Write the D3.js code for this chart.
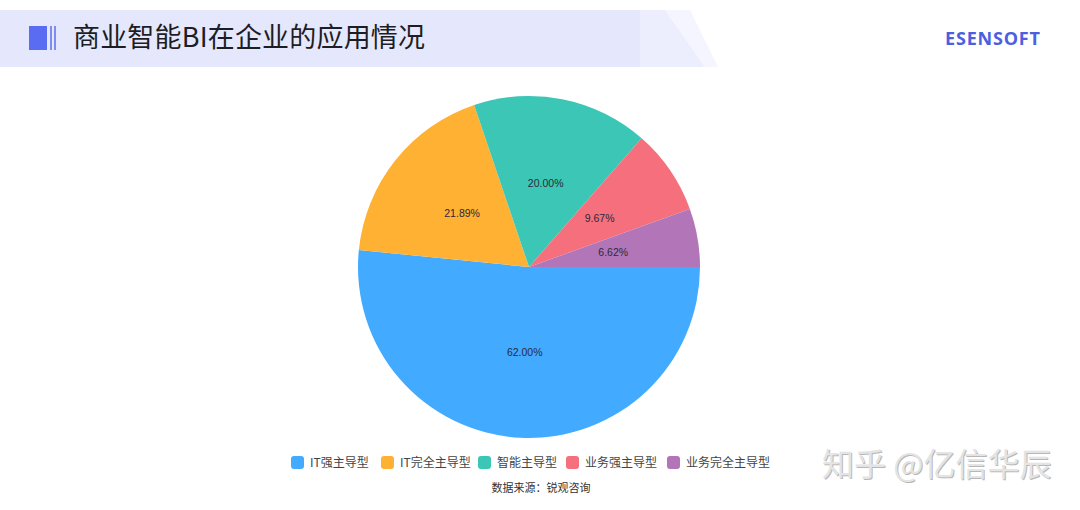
<!DOCTYPE html>
<html><head><meta charset="utf-8">
<script src="https://cdn.jsdelivr.net/npm/d3@7"></script>
<style>
html,body{margin:0;padding:0;background:#fff;}
svg{display:block;font-family:"Noto Sans CJK SC","Noto Sans",sans-serif;}
</style></head>
<body>
<svg id="c" width="1080" height="510"></svg>
<script>
const categories = ["IT强主导型","IT完全主导型","智能主导型","业务强主导型","业务完全主导型"];
const values = [62.00, 21.89, 20.00, 9.67, 6.62];
const labels = ["62.00%","21.89%","20.00%","9.67%","6.62%"];
const colors = ["#42aaff","#ffb133","#3cc6b5","#f66f7c","#b276b8"];
const title = "商业智能BI在企业的应用情况";
const source = "数据来源：锐观咨询";

const svg = d3.select("#c");

// header band
svg.append("rect").attr("x",0).attr("y",10).attr("width",640).attr("height",57).attr("fill","#e5e8fc");
svg.append("path").attr("d","M640,10 L665,10 L705,67 L640,67 Z").attr("fill","#eceefd");
svg.append("path").attr("d","M665,10 L690,10 L718,67 L705,67 Z").attr("fill","#f4f5fe");
// icon
svg.append("rect").attr("x",29).attr("y",26).attr("width",18).attr("height",24).attr("fill","#5a6cf2");
svg.append("rect").attr("x",50).attr("y",26).attr("width",2).attr("height",24).attr("fill","#7f8cf0");
svg.append("rect").attr("x",54).attr("y",26).attr("width",2).attr("height",24).attr("fill","#7f8cf0");
svg.append("text").attr("x",73).attr("y",47).attr("font-size",27).attr("fill","#1d1d24")
  .attr("textLength",352).text(title);
svg.append("text").attr("x",945).attr("y",45).attr("font-size",18).attr("font-weight","bold")
  .attr("font-family","'Open Sans','DejaVu Sans',sans-serif").attr("fill","#4c5fe0").attr("textLength",95).text("ESENSOFT");

// pie
const cx = 529, cy = 267, r = 171;
const pie = d3.pie().sort(null).value(d=>d).startAngle(Math.PI/2).endAngle(Math.PI/2 + 2*Math.PI);
const arcs = pie(values);
const arc = d3.arc().innerRadius(0).outerRadius(r);
const pg = svg.append("g").attr("transform",`translate(${cx},${cy})`);
pg.selectAll("path").data(arcs).join("path").attr("d",arc).attr("fill",(d,i)=>colors[i]);
pg.selectAll("text").data(arcs).join("text")
  .attr("transform",d=>`translate(${arc.centroid(d)})`)
  .attr("text-anchor","middle").attr("dy","0.35em").attr("font-size",10.5)
  .attr("font-family","'Liberation Sans','Noto Sans',sans-serif")
  .attr("fill","#2a2a3a").text((d,i)=>labels[i]);

// legend
const legX = [291,381,478,566,667];
const lg = svg.append("g");
categories.forEach((c,i)=>{
  lg.append("rect").attr("x",legX[i]).attr("y",456).attr("width",13).attr("height",13).attr("rx",3).attr("fill",colors[i]);
  lg.append("text").attr("x",legX[i]+19).attr("y",467).attr("font-size",12).attr("fill","#444").text(c);
});
svg.append("text").attr("x",541).attr("y",492).attr("text-anchor","middle").attr("font-size",11).attr("fill","#333").text(source);

// watermark
svg.append("text").attr("x",823).attr("y",477).attr("font-size",32).attr("fill","#999").attr("opacity",0.7).text("知乎 @亿信华辰");
svg.append("text").attr("x",822).attr("y",476).attr("font-size",32).attr("fill","#e4e4e4").text("知乎 @亿信华辰");
</script>
</body></html>
